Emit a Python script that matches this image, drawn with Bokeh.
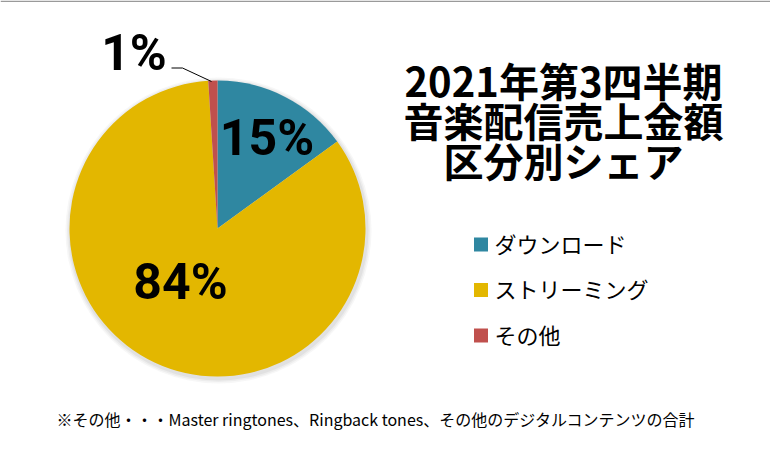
import numpy as np
from bokeh.plotting import figure
from bokeh.models import Range1d, ColumnDataSource
from bokeh.core.properties import value
from bokeh.embed import file_html
from bokeh.resources import INLINE

# ---- data ----
categories = ["ダウンロード", "ストリーミング", "その他"]
shares = [15, 84, 1]
labels = ["15%", "84%", "1%"]
colors = ["#2F87A1", "#E3B700", "#C0504D"]
title_lines = ["2021年第3四半期", "音楽配信売上金額", "区分別シェア"]
footnote = "※その他・・・Master ringtones、Ringback tones、その他のデジタルコンテンツの合計"

W, H = 770, 450
# data coords: x = reference pixel x, y = 458 - reference pixel y
p = figure(width=W, height=H, output_backend="svg", toolbar_location=None,
           x_range=Range1d(0, W), y_range=Range1d(458 - H, 458),
           min_border=0)
p.axis.visible = False
p.grid.visible = False
p.outline_line_color = None
p.background_fill_color = "white"
p.border_fill_color = "white"

def Y(y):
    return 458 - y

# top border line
p.line(x=[0, W], y=[Y(0.8), Y(0.8)], line_color="#9a9a9a", line_width=1.6)

cx, cy, r = 217, Y(228), 148

# soft shadow
for k, a in [(5, 0.06), (3.5, 0.08), (2, 0.10)]:
    p.circle(x=[cx + 1], y=[cy - 2], radius=r + k, fill_color="#7f7f7f",
             fill_alpha=a, line_color=None)

frac = np.array(shares, dtype=float) / sum(shares)
cum = np.concatenate([[0], np.cumsum(frac)])
start = np.pi / 2 - 2 * np.pi * cum[:-1]
end = np.pi / 2 - 2 * np.pi * cum[1:]
src = ColumnDataSource(dict(start=start, end=end, color=colors, cat=categories))
p.wedge(x=cx, y=cy, radius=r, start_angle="start", end_angle="end",
        direction="clock", fill_color="color", line_color=None, source=src)

# percent labels
label_pos = [(266.5, 137), (180, 281), (133.5, 52)]
p.text(x=[q[0] for q in label_pos], y=[Y(q[1]) for q in label_pos], text=labels,
       text_font=value("Roboto"), text_font_style="bold", text_font_size="50px",
       text_color="black", text_align="center", text_baseline="middle")

# leader line for 1%
p.line(x=[171, 182, 211], y=[Y(67.5), Y(67.5), Y(81)], line_color="black", line_width=1)

# title
for i, t in enumerate(title_lines):
    p.text(x=[563], y=[Y(79 + 40 * i)], text=[t], text_font=value("Noto Sans CJK JP"),
           text_font_style="bold", text_font_size="40px", text_color="black",
           text_align="center", text_baseline="middle")

# legend
for i, (c, col) in enumerate(zip(categories, colors)):
    yy = 244 + 45.5 * i
    p.rect(x=[480.5], y=[Y(yy)], width=14, height=14, fill_color=col, line_color=None)
    p.text(x=[494], y=[Y(yy - 2)], text=[c], text_font=value("Noto Sans CJK JP"),
           text_font_size="22px", text_color="black", text_align="left",
           text_baseline="middle")

# footnote
p.text(x=[56], y=[Y(418)], text=[footnote], text_font=value("Noto Sans CJK JP"),
       text_font_size="16px", text_color="black", text_align="left",
       text_baseline="middle")

open("out.html", "w").write(file_html(p, INLINE))
